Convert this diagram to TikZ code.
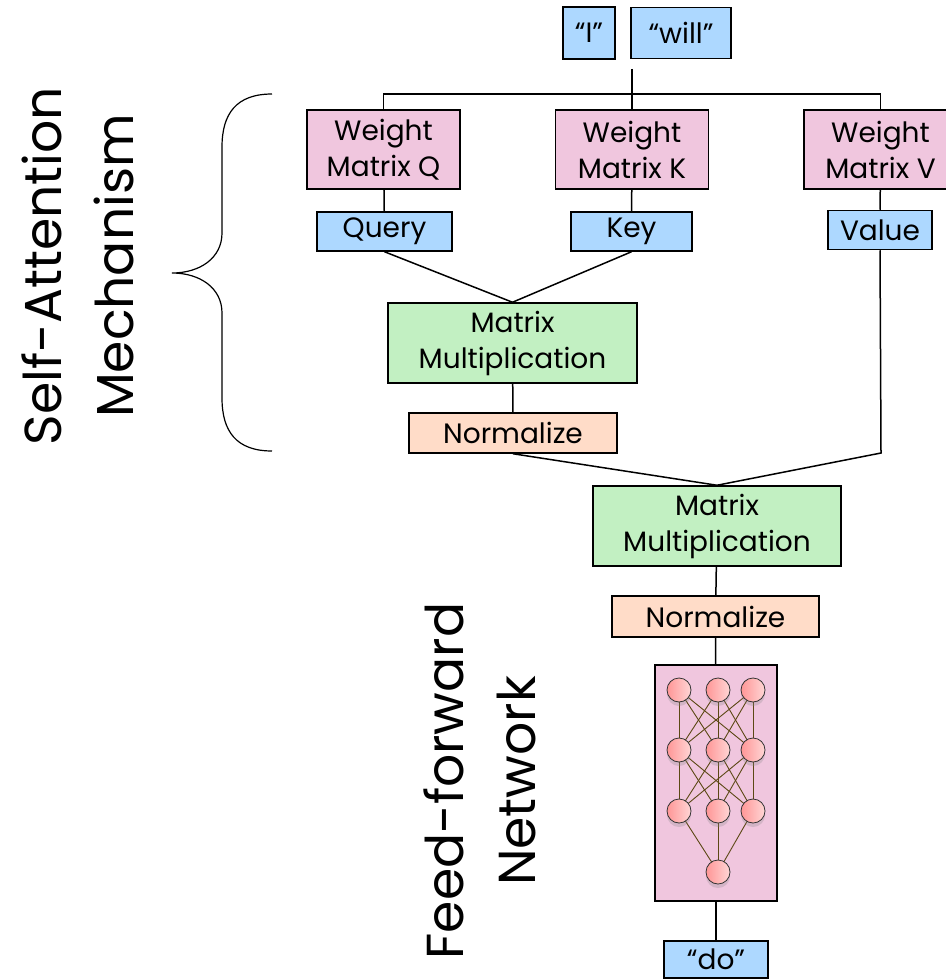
\documentclass[tikz,border=0pt]{standalone}
\usepackage{fontspec}
\setmainfont{Poppins}
\usepackage{tikz}
\usetikzlibrary{arrows.meta,positioning,calc,shadows}
\definecolor{wpink}{RGB}{240,198,222}
\definecolor{vblue}{RGB}{173,216,255}
\definecolor{mgreen}{RGB}{194,240,194}
\definecolor{npeach}{RGB}{255,220,200}
\definecolor{neuronL}{RGB}{255,150,150}
\definecolor{neuronR}{RGB}{255,214,214}
\definecolor{synapse}{RGB}{92,72,20}

\begin{document}
\begin{tikzpicture}[x=1pt, y=-1pt,
  box/.style={draw, line width=1.5pt, inner sep=0pt, align=center, font=\fontsize{28}{36}\selectfont},
  weight/.style={box, fill=wpink, minimum width=153pt, minimum height=79pt},
  vec/.style={box, fill=vblue, minimum height=39pt},
  matmul/.style={box, fill=mgreen, minimum width=249pt, minimum height=80pt},
  norm/.style={box, fill=npeach, minimum height=40pt},
  neuron/.style={circle, draw=black!80, line width=0.8pt, minimum size=24pt, inner sep=0pt,
    left color=neuronL, right color=neuronR,
    drop shadow={opacity=0.25, shadow xshift=0pt, shadow yshift=-4pt}},
  link/.style={line width=1.5pt},
  syn/.style={draw=synapse, line width=0.9pt},
  side/.style={rotate=90, align=center, font=\fontsize{52}{72}\selectfont}
]
  \useasboundingbox (0,0) rectangle (945,979);

  % input words
  \node[vec, minimum width=52pt, minimum height=52pt] (wI) at (589,33) {“I”};
  \node[vec, minimum width=100pt, minimum height=51pt] (wWill) at (681,33) {“will”};

  % weight matrices
  \node[weight] (wq) at (383.5,149.5) {Weight\\Matrix Q};
  \node[weight] (wk) at (632,149.5) {Weight\\Matrix K};
  \node[weight] (wv) at (880.5,149.5) {Weight\\Matrix V};

  \node[vec, minimum width=135pt] (query) at (384.5,231.5) {Query};
  \node[vec, minimum width=121pt] (key) at (631.5,231.5) {Key};
  \node[vec, minimum width=104pt] (value) at (880,230) {Value};

  \node[matmul] (mm1) at (512.5,343) {Matrix\\Multiplication};
  \node[norm, minimum width=208pt] (norm1) at (513,433) {Normalize};

  \node[matmul, minimum width=248pt] (mm2) at (717,526) {Matrix\\Multiplication};
  \node[norm, minimum width=207pt, minimum height=41pt] (norm2) at (715.5,616.5) {Normalize};

  % feed-forward network
  \node[draw, line width=1.5pt, fill=wpink, minimum width=122pt, minimum height=236pt] (ffn) at (716,783) {};
  \foreach \r/\y in {1/690, 2/750, 3/811} {
    \foreach \c/\x in {1/679, 2/718, 3/753} {
      \coordinate (c\r\c) at (\x,\y);
    }
  }
  \coordinate (cout) at (718,872);
  \foreach \a in {1,2,3} {
    \foreach \b in {1,2,3} {
      \draw[syn] (c1\a) -- (c2\b);
      \draw[syn] (c2\a) -- (c3\b);
    }
    \draw[syn] (c3\a) -- (cout);
  }
  \foreach \r in {1,2,3} {
    \foreach \c in {1,2,3} {
      \node[neuron] (n\r\c) at (c\r\c) {};
    }
  }
  \node[neuron] (nout) at (cout) {};

  \node[vec, minimum width=104pt, minimum height=37pt] (wDo) at (716,959.5) {“do”};

  % connectors
  \coordinate (split) at (632,69);
  \coordinate (bus) at (632,94);
  \coordinate (vbend) at (881,453);
  \draw[link] (split) -- (bus);
  \draw[link] (wq.north) |- (bus) -| (wv.north);
  \draw[link] (bus) -- (wk.north);
  \draw[link] (wq) -- (query);
  \draw[link] (wk) -- (key);
  \draw[link] (wv) -- (value);
  \draw[link] (query.south) -- (mm1.north);
  \draw[link] (key.south) -- (mm1.north);
  \draw[link] (mm1) -- (norm1);
  \draw[link] (norm1.south) -- (mm2.north);
  \draw[link] (value.south) -- (vbend) -- (mm2.north);
  \draw[link] (mm2) -- (norm2);
  \draw[link] (norm2) -- (ffn);
  \draw[link] (ffn) -- (wDo);

  % brace and side labels
  \draw[line width=1.2pt] (272,94) .. controls (236,94) and (222,114) .. (222,147) -- (222,233)
    .. controls (222,258) and (200,273) .. (172,273)
    .. controls (200,273) and (222,288) .. (222,313) -- (222,398)
    .. controls (222,431) and (236,451) .. (272,451);
  \node[side] (lblAttn) at (78,266) {Self-Attention\\Mechanism};
  \node[side] (lblFfn) at (480,781) {Feed-forward\\Network};
\end{tikzpicture}
\end{document}
